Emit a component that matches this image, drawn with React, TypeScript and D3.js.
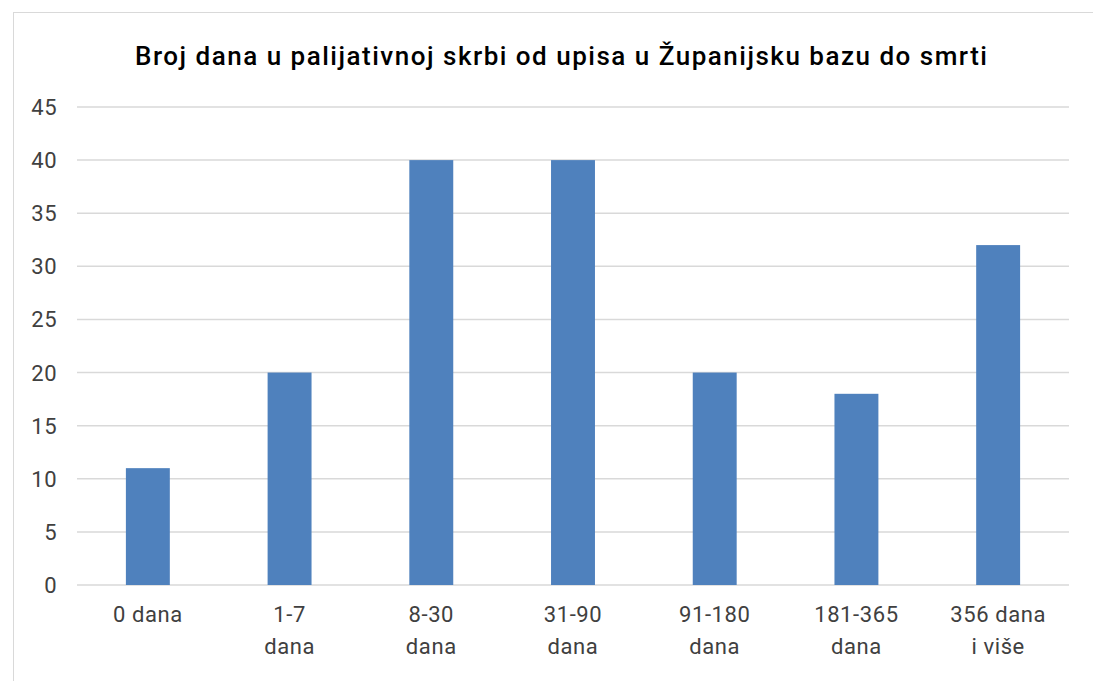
import React from "react";
import * as d3 from "d3";

const categories: string[][] = [
  ["0 dana"],
  ["1-7", "dana"],
  ["8-30", "dana"],
  ["31-90", "dana"],
  ["91-180", "dana"],
  ["181-365", "dana"],
  ["356 dana", "i više"],
];
const values: number[] = [11, 20, 40, 40, 20, 18, 32];
const yTicks: number[] = [0, 5, 10, 15, 20, 25, 30, 35, 40, 45];
const title = "Broj dana u palijativnoj skrbi od upisa u Županijsku bazu do smrti";

const W = 1093;
const H = 681;
const left = 77;
const right = 1069;
const top = 107;
const bottom = 585;
const font = "Roboto, 'Noto Sans', sans-serif";

export default function App() {
  const x = d3
    .scaleBand<number>()
    .domain(d3.range(categories.length))
    .range([left, right])
    .paddingInner(0.69)
    .paddingOuter(0.345);
  const y = d3.scaleLinear().domain([0, 45]).range([bottom, top]);
  const step = (right - left) / categories.length;

  return (
    <svg
      width={W}
      height={H}
      style={{ position: "absolute", left: 0, top: 0, background: "#fff" }}
    >
      <rect x={13.5} y={12.5} width={1100} height={700} fill="#fff" stroke="#d9d9d9" strokeWidth={1} />
      <text
        x={135}
        y={65}
        textLength={852}
        lengthAdjust="spacing"
        fontFamily={font}
        fontWeight={500}
        fontSize={26}
        fill="#000"
      >
        {title}
      </text>
      {yTicks.map((t) => (
        <g key={t}>
          <line x1={left} x2={right} y1={y(t)} y2={y(t)} stroke="#d9d9d9" strokeWidth={1.5} />
          <text
            x={57}
            y={y(t) + 8}
            textAnchor="end"
            fontFamily={font}
            fontSize={22}
            letterSpacing={0.5}
            fill="#404040"
          >
            {t}
          </text>
        </g>
      ))}
      {values.map((v, i) => (
        <rect
          key={i}
          x={x(i)}
          y={y(v)}
          width={x.bandwidth()}
          height={y(0) - y(v)}
          fill="#4F81BD"
        />
      ))}
      {categories.map((lines, i) => (
        <text
          key={i}
          x={left + step * (i + 0.5)}
          y={622}
          textAnchor="middle"
          fontFamily={font}
          fontSize={22}
          letterSpacing={0.6}
          fill="#404040"
        >
          {lines.map((l, j) => (
            <tspan key={j} x={left + step * (i + 0.5)} dy={j === 0 ? 0 : 32}>
              {l}
            </tspan>
          ))}
        </text>
      ))}
    </svg>
  );
}
